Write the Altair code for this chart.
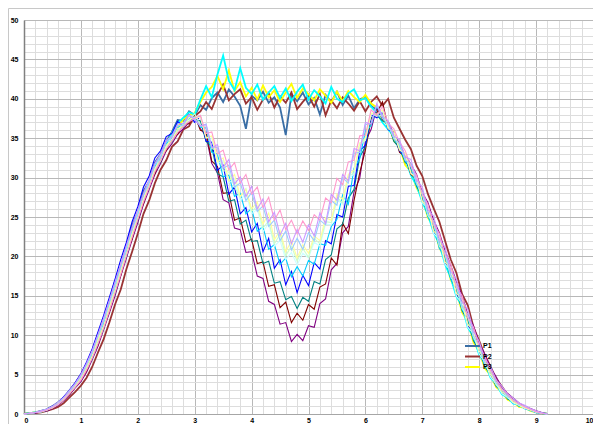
import altair as alt
import pandas as pd

x_vals = [0.0, 0.1, 0.2, 0.3, 0.4, 0.5, 0.6, 0.7, 0.8, 0.9,
          1.0, 1.1, 1.2, 1.3, 1.4, 1.5, 1.6, 1.7, 1.8, 1.9,
          2.0, 2.1, 2.2, 2.3, 2.4, 2.5, 2.6, 2.7, 2.8, 2.9,
          3.0, 3.1, 3.2, 3.3, 3.4, 3.5, 3.6, 3.7, 3.8, 3.9,
          4.0, 4.1, 4.2, 4.3, 4.4, 4.5, 4.6, 4.7, 4.8, 4.9,
          5.0, 5.1, 5.2, 5.3, 5.4, 5.5, 5.6, 5.7, 5.8, 5.9,
          6.0, 6.1, 6.2, 6.3, 6.4, 6.5, 6.6, 6.7, 6.8, 6.9,
          7.0, 7.1, 7.2, 7.3, 7.4, 7.5, 7.6, 7.7, 7.8, 7.9,
          8.0, 8.1, 8.2, 8.3, 8.4, 8.5, 8.6, 8.7, 8.8, 8.9,
          9.0, 9.1, 9.2]

P1 = [0, 0.1, 0.2, 0.4, 0.6, 1.0, 1.5, 2.1, 3.0, 3.9,
      5.0, 6.2, 8.0, 10.1, 11.8, 14.2, 16.9, 18.6, 21.3, 23.9,
      25.6, 28.3, 29.5, 31.9, 33.0, 34.6, 35.8, 37.3, 37.2, 38.4,
      37.9, 39.2, 38.6, 40.1, 40.8, 39.6, 41.2, 40.3, 39.1, 36.2,
      40.4, 39.8, 40.9, 39.5, 40.2, 38.9, 35.4, 40.6, 39.7, 40.8,
      39.3, 40.1, 38.0, 40.5, 39.6, 40.9, 39.2, 40.4, 38.8, 39.9,
      40.3, 39.1, 38.6, 37.8, 37.0, 35.4, 34.3, 32.2, 31.1, 29.4,
      27.8, 25.6, 24.1, 21.8, 20.3, 17.6, 16.0, 13.4, 12.1, 9.6,
      8.2, 6.0, 5.1, 3.5, 2.9, 1.9, 1.6, 1.0, 0.9, 0.5,
      0.3, 0.1, 0.0]
P2 = [0, 0.1, 0.1, 0.2, 0.4, 0.6, 0.9, 1.4, 2.1, 2.8,
      3.6, 4.6, 6.0, 7.8, 9.5, 11.6, 13.9, 15.8, 18.4, 20.6,
      22.9, 25.4, 27.1, 29.3, 31.0, 32.2, 33.9, 34.6, 36.1, 36.5,
      37.8, 38.4, 39.6, 38.7, 40.5, 41.8, 39.8, 40.6, 41.2, 39.4,
      40.2, 38.6, 39.9, 40.7, 38.9, 40.3, 39.5, 40.8, 38.7, 39.6,
      40.4, 39.0, 40.6, 37.9, 39.8, 38.8, 40.2, 39.4, 38.5, 39.7,
      38.4, 39.6, 40.3, 39.1, 40.0, 37.6, 36.2, 34.8, 33.6, 31.5,
      30.2, 27.9, 26.1, 24.4, 22.0, 19.6, 17.9, 15.2, 13.8, 11.0,
      9.3, 7.4, 6.0, 4.4, 3.5, 2.4, 1.9, 1.2, 0.9, 0.6,
      0.3, 0.1, 0.0]
P3 = [0, 0.1, 0.2, 0.3, 0.5, 0.8, 1.3, 1.9, 2.7, 3.5,
      4.5, 5.7, 7.5, 9.2, 11.4, 13.3, 15.9, 18.1, 20.5, 22.8,
      25.2, 27.1, 29.4, 30.9, 32.7, 33.6, 35.6, 36.4, 37.4, 37.9,
      38.2, 39.6, 40.8, 41.5, 42.9, 41.2, 43.6, 41.0, 42.1, 40.3,
      41.4, 39.9, 41.7, 40.2, 41.1, 39.6, 40.8, 41.9, 40.1, 41.3,
      40.6, 39.8, 41.2, 40.4, 39.5, 40.9, 39.7, 41.0, 40.2, 39.6,
      40.5, 39.4, 38.9, 37.3, 36.8, 34.7, 33.9, 31.6, 30.8, 28.7,
      27.4, 24.9, 23.8, 21.1, 19.7, 17.0, 15.6, 12.9, 11.7, 9.1,
      7.9, 5.8, 4.9, 3.4, 2.8, 1.8, 1.5, 0.9, 0.8, 0.4,
      0.2, 0.1, 0.0]
P4 = [0, 0.1, 0.2, 0.3, 0.5, 0.9, 1.4, 2.0, 2.9, 3.7,
      4.8, 6.1, 7.8, 9.7, 11.6, 13.9, 16.2, 18.4, 20.9, 23.1,
      25.5, 27.6, 29.2, 31.4, 32.6, 34.2, 35.6, 36.9, 37.6, 38.3,
      38.0, 39.9, 41.6, 40.2, 43.1, 45.5, 42.3, 41.1, 43.9, 41.4,
      40.6, 41.8, 39.9, 40.8, 41.6, 40.1, 41.3, 39.7, 40.9, 41.8,
      39.9, 41.1, 40.3, 39.4, 41.5, 40.0, 39.6, 40.7, 41.2, 39.8,
      40.1, 39.0, 38.2, 37.0, 36.1, 35.3, 33.5, 32.4, 30.3, 29.0,
      26.9, 25.3, 23.0, 21.6, 19.0, 17.3, 14.9, 13.7, 11.0, 9.8,
      7.5, 6.5, 4.6, 3.8, 2.5, 2.1, 1.3, 1.2, 0.7, 0.5,
      0.2, 0.1, 0.0]
P5 = [0, 0.1, 0.1, 0.3, 0.4, 0.7, 1.1, 1.7, 2.4, 3.3,
      4.1, 5.3, 6.9, 8.6, 10.7, 12.8, 15.0, 17.5, 19.8, 22.1,
      24.3, 26.6, 28.5, 30.4, 31.8, 33.4, 34.3, 35.5, 36.2, 37.0,
      37.8, 36.2, 35.3, 31.8, 30.6, 27.2, 26.8, 23.6, 23.4, 20.5,
      20.6, 17.5, 17.2, 14.3, 13.9, 11.4, 11.6, 9.2, 10.1, 9.3,
      11.2, 11.0, 14.0, 14.6, 18.3, 19.1, 23.0, 23.8, 28.2, 29.9,
      34.6, 36.1, 38.9, 37.4, 37.1, 35.4, 34.1, 32.9, 31.7, 30.4,
      28.1, 26.8, 24.6, 23.0, 20.7, 18.9, 16.8, 15.0, 12.6, 11.2,
      9.0, 7.6, 5.9, 4.7, 3.4, 2.6, 2.0, 1.4, 1.0, 0.7,
      0.4, 0.2, 0.0]
P6 = [0, 0.1, 0.2, 0.3, 0.5, 0.8, 1.2, 1.9, 2.5, 3.5,
      4.4, 5.5, 7.4, 8.8, 11.2, 13.0, 15.7, 17.6, 20.4, 22.2,
      25.1, 26.7, 29.3, 30.5, 32.6, 33.4, 35.1, 35.5, 36.9, 36.8,
      37.9, 36.0, 35.8, 32.1, 31.4, 28.0, 28.1, 24.6, 24.9, 21.8,
      22.2, 19.1, 19.3, 16.2, 16.4, 13.5, 14.2, 11.6, 12.8, 11.9,
      13.9, 13.3, 16.1, 16.5, 19.8, 18.9, 24.2, 22.9, 27.1, 30.6,
      33.5, 37.4, 38.2, 39.6, 36.3, 35.8, 33.2, 32.7, 30.4, 29.8,
      27.0, 26.2, 23.4, 22.3, 19.4, 18.4, 15.6, 14.5, 11.9, 10.4,
      8.6, 7.0, 5.4, 4.3, 3.1, 2.4, 1.8, 1.3, 0.9, 0.6,
      0.3, 0.1, 0.0]
P7 = [0, 0.1, 0.2, 0.3, 0.5, 0.8, 1.3, 1.8, 2.7, 3.4,
      4.4, 5.7, 7.1, 9.1, 10.8, 13.4, 15.3, 18.0, 20.0, 22.7,
      24.6, 27.2, 28.8, 31.1, 32.0, 34.0, 34.6, 36.1, 36.4, 37.5,
      37.3, 37.2, 34.6, 33.9, 30.5, 30.1, 27.0, 27.2, 24.1, 24.6,
      21.9, 22.0, 19.1, 19.4, 16.6, 16.8, 14.5, 14.9, 13.4, 14.8,
      14.3, 16.8, 16.5, 19.6, 20.2, 23.5, 24.1, 27.4, 28.5, 32.6,
      33.9, 37.6, 37.9, 37.2, 36.9, 34.6, 33.8, 31.9, 31.5, 28.9,
      27.6, 25.1, 23.9, 21.2, 19.9, 17.2, 15.8, 13.1, 11.9, 9.3,
      8.1, 6.0, 5.0, 3.5, 2.9, 1.9, 1.6, 1.0, 0.9, 0.5,
      0.3, 0.1, 0.0]
P8 = [0, 0.1, 0.2, 0.4, 0.6, 1.0, 1.4, 2.2, 3.0, 4.0,
      5.1, 6.6, 8.3, 10.4, 12.5, 14.8, 17.1, 19.6, 21.8, 24.4,
      26.3, 28.8, 30.2, 32.5, 33.4, 35.2, 35.6, 37.1, 36.6, 38.0,
      37.0, 37.8, 34.6, 34.5, 30.9, 31.6, 27.9, 28.8, 25.4, 26.2,
      23.1, 24.2, 20.6, 22.3, 18.5, 19.6, 16.4, 18.1, 15.4, 17.6,
      16.3, 19.2, 18.4, 22.0, 21.6, 25.3, 25.0, 28.9, 29.0, 33.4,
      34.1, 38.0, 37.6, 38.3, 36.1, 35.7, 33.4, 32.6, 30.7, 29.8,
      27.2, 26.0, 23.1, 22.4, 19.2, 18.1, 15.2, 14.3, 11.2, 10.3,
      7.9, 6.8, 4.9, 3.9, 2.7, 2.2, 1.4, 1.2, 0.7, 0.5,
      0.2, 0.1, 0.0]
P9 = [0, 0.1, 0.2, 0.3, 0.5, 0.9, 1.3, 2.0, 2.8, 3.6,
      4.7, 6.0, 7.6, 9.6, 11.5, 13.8, 16.0, 18.5, 20.6, 23.0,
      25.2, 27.5, 29.2, 31.3, 32.4, 34.3, 34.9, 36.3, 36.8, 37.4,
      37.6, 36.4, 36.3, 33.2, 33.0, 30.1, 30.3, 27.6, 28.0, 25.4,
      26.1, 23.2, 23.8, 20.9, 21.5, 19.0, 19.8, 17.4, 18.7, 17.5,
      19.5, 19.0, 21.6, 21.4, 23.8, 24.7, 27.8, 26.6, 31.2, 32.4,
      35.9, 36.6, 39.1, 37.7, 36.5, 35.0, 34.0, 32.1, 31.3, 29.1,
      27.8, 25.0, 24.0, 21.0, 20.1, 17.1, 16.1, 13.2, 12.3, 9.5,
      8.4, 6.1, 5.3, 3.6, 3.0, 2.0, 1.7, 1.0, 0.9, 0.5,
      0.3, 0.1, 0.0]
P10 = [0, 0.1, 0.2, 0.3, 0.5, 0.8, 1.2, 1.9, 2.6, 3.5,
       4.4, 5.7, 7.3, 9.1, 11.1, 13.2, 15.6, 17.9, 20.3, 22.6,
       24.9, 27.1, 29.0, 30.9, 32.3, 33.8, 34.9, 35.9, 36.7, 37.3,
       37.7, 37.6, 35.1, 35.0, 31.8, 32.2, 29.3, 29.9, 27.1, 28.0,
       25.4, 26.0, 23.1, 24.2, 21.3, 22.0, 19.6, 20.5, 18.9, 20.4,
       19.8, 21.8, 21.3, 24.1, 24.0, 27.2, 26.6, 29.8, 30.5, 34.1,
       34.8, 38.0, 38.1, 38.4, 36.4, 35.6, 33.6, 33.0, 30.6, 29.9,
       26.8, 26.1, 22.9, 22.2, 19.0, 18.2, 14.9, 14.1, 11.0, 10.2,
       7.6, 6.6, 4.7, 3.8, 2.6, 2.1, 1.4, 1.1, 0.7, 0.5,
       0.2, 0.1, 0.0]
P11 = [0, 0.1, 0.2, 0.4, 0.6, 0.9, 1.4, 2.0, 2.9, 3.7,
       4.9, 6.1, 7.9, 9.6, 11.9, 13.7, 16.3, 18.3, 21.0, 22.9,
       25.6, 27.3, 29.6, 31.0, 32.8, 33.9, 35.3, 35.8, 37.0, 37.1,
       38.1, 36.6, 36.5, 33.7, 33.4, 30.9, 30.7, 28.8, 27.5, 28.6,
       25.7, 26.4, 23.6, 24.5, 21.6, 22.8, 20.1, 21.3, 19.4, 21.0,
       19.9, 22.3, 21.6, 24.4, 24.3, 27.5, 26.8, 30.2, 30.6, 34.4,
       34.7, 38.1, 37.8, 37.9, 36.6, 35.1, 34.2, 32.4, 31.6, 29.3,
       27.9, 25.2, 24.2, 21.3, 20.3, 17.4, 16.2, 13.4, 12.4, 9.7,
       8.5, 6.3, 5.4, 3.7, 3.1, 2.1, 1.7, 1.1, 0.9, 0.6,
       0.3, 0.1, 0.0]
P12 = [0, 0.1, 0.2, 0.3, 0.5, 0.8, 1.3, 1.9, 2.7, 3.5,
       4.6, 5.8, 7.4, 9.4, 11.2, 13.5, 15.7, 18.2, 20.3, 22.9,
       24.9, 27.4, 28.9, 31.2, 32.1, 34.1, 34.7, 36.2, 36.5, 37.6,
       37.4, 37.8, 35.0, 35.3, 32.0, 32.5, 29.6, 30.4, 27.6, 28.5,
       26.0, 26.9, 24.1, 25.5, 22.1, 23.3, 20.6, 22.0, 19.8, 21.5,
       20.4, 22.6, 22.0, 24.9, 24.6, 27.9, 27.2, 30.4, 30.9, 34.3,
       35.0, 38.2, 38.0, 38.6, 36.2, 35.9, 33.5, 33.1, 30.5, 30.0,
       27.0, 26.3, 23.2, 22.5, 19.3, 18.5, 15.3, 14.6, 11.4, 10.5,
       8.0, 6.9, 5.0, 4.0, 2.8, 2.3, 1.5, 1.2, 0.8, 0.5,
       0.3, 0.1, 0.0]
P13 = [0, 0.1, 0.2, 0.3, 0.6, 0.9, 1.3, 2.1, 2.8, 3.8,
       4.8, 6.3, 7.8, 9.9, 11.8, 14.1, 16.4, 18.6, 21.1, 23.4,
       25.4, 27.8, 29.4, 31.6, 32.6, 34.5, 35.1, 36.6, 36.6, 37.9,
       37.5, 36.5, 36.8, 33.9, 33.8, 31.2, 31.6, 28.8, 29.3, 27.1,
       28.1, 25.7, 26.4, 23.8, 24.6, 22.0, 23.2, 20.8, 22.3, 20.9,
       23.0, 22.0, 24.6, 24.0, 27.1, 26.5, 30.0, 29.3, 33.1, 33.2,
       36.7, 36.9, 39.2, 37.5, 36.8, 34.9, 34.3, 32.2, 31.8, 29.2,
       28.2, 25.4, 24.5, 21.5, 20.6, 17.6, 16.5, 13.6, 12.7, 9.9,
       8.7, 6.4, 5.6, 3.9, 3.2, 2.2, 1.8, 1.2, 1.0, 0.6,
       0.3, 0.1, 0.0]
P14 = [0, 0.1, 0.2, 0.3, 0.5, 0.8, 1.2, 1.8, 2.6, 3.4,
       4.3, 5.6, 7.1, 8.9, 10.9, 13.1, 15.4, 17.7, 20.1, 22.4,
       24.7, 26.9, 28.8, 30.7, 32.2, 33.6, 34.7, 35.7, 36.5, 37.1,
       37.5, 37.9, 35.6, 35.8, 33.0, 33.5, 31.0, 31.9, 29.3, 30.4,
       27.9, 28.8, 26.2, 27.5, 24.6, 25.9, 23.4, 24.6, 22.9, 24.5,
       23.3, 25.3, 24.6, 27.4, 26.8, 29.9, 29.1, 32.0, 32.2, 35.3,
       35.4, 38.6, 37.9, 39.0, 36.9, 36.2, 34.5, 33.4, 31.4, 30.3,
       27.9, 26.6, 24.0, 22.9, 20.2, 19.0, 16.1, 15.0, 12.2, 11.0,
       8.6, 7.3, 5.5, 4.3, 3.1, 2.5, 1.7, 1.3, 0.9, 0.6,
       0.3, 0.1, 0.0]
P15 = [0, 0.1, 0.2, 0.4, 0.6, 1.0, 1.5, 2.1, 3.0, 3.9,
       5.0, 6.4, 8.1, 10.1, 12.2, 14.4, 16.8, 19.0, 21.4, 23.7,
       25.9, 28.0, 29.8, 31.8, 33.0, 34.7, 35.3, 36.8, 36.9, 38.0,
       37.3, 36.6, 36.7, 33.8, 34.2, 31.3, 32.3, 29.2, 30.1, 27.6,
       28.9, 26.0, 27.3, 24.4, 25.6, 22.7, 24.2, 21.6, 23.4, 21.8,
       24.0, 22.6, 25.5, 24.2, 27.9, 27.1, 30.4, 29.6, 33.7, 33.4,
       37.0, 36.8, 39.4, 37.8, 37.2, 35.3, 34.8, 32.6, 32.3, 29.7,
       28.8, 25.9, 25.1, 22.1, 21.2, 18.1, 17.1, 14.2, 13.3, 10.5,
       9.2, 6.9, 6.0, 4.3, 3.5, 2.5, 2.0, 1.4, 1.1, 0.7,
       0.4, 0.2, 0.0]

series_names = ["P1", "P2", "P3", "P4", "P5", "P6", "P7", "P8",
                "P9", "P10", "P11", "P12", "P13", "P14", "P15"]
series_values = [P1, P2, P3, P4, P5, P6, P7, P8, P9, P10, P11, P12, P13, P14, P15]
series_colors = ["#3A6EA5", "#993333", "#FFFF00", "#00FFFF", "#800080", "#800000",
                 "#008080", "#0000FF", "#00CCFF", "#CCFFFF", "#CCFFCC", "#FFFF99",
                 "#99CCFF", "#FF99CC", "#CC99FF"]
legend_shown = ["P1", "P2", "P3"]
thick_series = ["P1", "P2", "P3", "P4"]

major_x = [0, 1, 2, 3, 4, 5, 6, 7, 8, 9, 10]
minor_x = [0.2, 0.4, 0.6, 0.8, 1.2, 1.4, 1.6, 1.8, 2.2, 2.4, 2.6, 2.8,
           3.2, 3.4, 3.6, 3.8, 4.2, 4.4, 4.6, 4.8, 5.2, 5.4, 5.6, 5.8,
           6.2, 6.4, 6.6, 6.8, 7.2, 7.4, 7.6, 7.8, 8.2, 8.4, 8.6, 8.8,
           9.2, 9.4, 9.6, 9.8]
major_y = [0, 5, 10, 15, 20, 25, 30, 35, 40, 45, 50]
minor_y = [1, 2, 3, 4, 6, 7, 8, 9, 11, 12, 13, 14, 16, 17, 18, 19,
           21, 22, 23, 24, 26, 27, 28, 29, 31, 32, 33, 34, 36, 37, 38, 39,
           41, 42, 43, 44, 46, 47, 48, 49]

rows = []
for name, vals in zip(series_names, series_values):
    assert len(vals) == len(x_vals), (name, len(vals))
    for xv, yv in zip(x_vals, vals):
        rows.append({"x": xv, "y": yv, "series": name})
df = pd.DataFrame(rows)
df_thick = df[df["series"].isin(thick_series)]
df_thin = df[~df["series"].isin(thick_series)]

FONT = "Liberation Sans"
xscale = alt.Scale(domain=[0, 10], nice=False, zero=False)
yscale = alt.Scale(domain=[0, 50], nice=False, zero=False)
cscale = alt.Scale(domain=series_names, range=series_colors)

legend = alt.Legend(values=legend_shown, title=None, orient="none",
                    legendX=445, legendY=322.5, symbolType="M-3,0H3",
                    symbolSize=25, symbolStrokeWidth=2, rowPadding=1.5,
                    labelFont=FONT, labelFontSize=7, labelFontWeight="bold",
                    labelColor="#000000", labelOffset=7, padding=0)

layer_thick = alt.Chart(df_thick).mark_line(strokeWidth=1.8).encode(
    x=alt.X("x:Q", scale=xscale,
            axis=alt.Axis(values=minor_x, grid=True, gridColor="#dddddd",
                          gridWidth=1, labels=False, ticks=False, domain=False,
                          title=None, orient="bottom")),
    y=alt.Y("y:Q", scale=yscale,
            axis=alt.Axis(values=minor_y, grid=True, gridColor="#dddddd",
                          gridWidth=1, labels=False, ticks=False, domain=False,
                          title=None, orient="left")),
    color=alt.Color("series:N", scale=cscale, legend=legend),
    detail="series:N",
)

layer_thin = alt.Chart(df_thin).mark_line(strokeWidth=1.1).encode(
    x=alt.X("x:Q", scale=xscale,
            axis=alt.Axis(values=major_x, grid=True, gridColor="#b8b8b8",
                          gridWidth=1, ticks=False, domain=True,
                          domainColor="#a6a6a6", domainWidth=1,
                          labelFont=FONT, labelFontSize=7, labelFontWeight="bold",
                          labelColor="#000000", labelPadding=2, labelFlush=True,
                          title=None, orient="bottom")),
    y=alt.Y("y:Q", scale=yscale,
            axis=alt.Axis(values=major_y, grid=True, gridColor="#b8b8b8",
                          gridWidth=1, ticks=False, domain=True,
                          domainColor="#808080", domainWidth=1.5,
                          labelFont=FONT, labelFontSize=7, labelFontWeight="bold",
                          labelColor="#000000", labelPadding=6,
                          title=None, orient="left")),
    color=alt.Color("series:N", scale=cscale, legend=legend),
    detail="series:N",
)

frame_src = pd.DataFrame({"k": [0]})
frame_top = alt.Chart(frame_src).mark_rule(color="#c8c8c8", strokeWidth=1).encode(
    x=alt.value(-15.5), x2=alt.value(569), y=alt.value(-11.5))
frame_left = alt.Chart(frame_src).mark_rule(color="#c8c8c8", strokeWidth=1).encode(
    x=alt.value(-15.5), y=alt.value(-11.5), y2=alt.value(404))

chart = alt.layer(layer_thick, layer_thin, frame_top, frame_left).resolve_axis(
    x="independent", y="independent"
).properties(
    width=569, height=394,
    autosize=alt.AutoSizeParams(type="none"),
    padding={"left": 16, "top": 12, "right": 0, "bottom": 10},
    background="#ffffff",
).configure_view(strokeWidth=0).configure_legend(
    labelFontSize=7, symbolSize=25, symbolStrokeWidth=2, rowPadding=1.5
)

chart.save("out.html", embed_options={"renderer": "svg", "actions": False})
